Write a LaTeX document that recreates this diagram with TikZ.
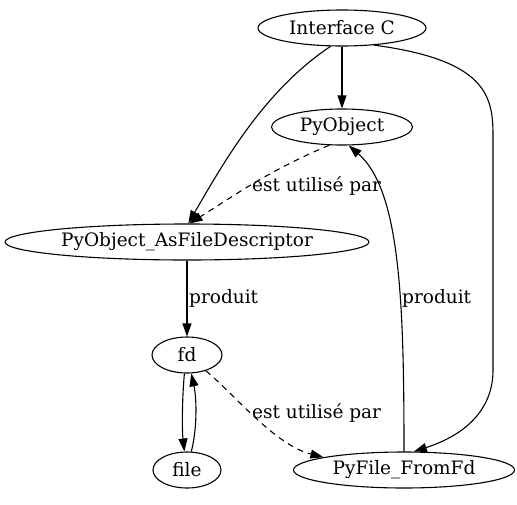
\documentclass[tikz,border=0pt]{standalone}
\usepackage{fontspec}
\setmainfont{DejaVu Serif}
\usetikzlibrary{arrows.meta,shapes.geometric}
\begin{document}
\begin{tikzpicture}[x=1pt,y=-1pt,
  nd/.style={draw,ellipse,inner sep=0pt,minimum height=36pt,line width=1.1pt,font=\fontsize{18.5}{22}\selectfont},
  lbl/.style={font=\fontsize{18.5}{22}\selectfont,inner sep=1pt},
  edge/.style={-{Triangle[length=13pt,width=9pt]},line width=1.1pt},
  dedge/.style={edge,dash pattern=on 6pt off 5pt}]
\useasboundingbox (0,0) rectangle (517,504);
\node[nd,minimum width=168pt] (ic) at (342,28) {Interface C};
\node[nd,minimum width=141pt] (po) at (342,127) {PyObject};
\node[nd,minimum width=364pt] (as) at (187,242) {PyObject\_AsFileDescriptor};
\node[nd,minimum width=70pt] (fd) at (187,355) {fd};
\node[nd,minimum width=68pt] (fi) at (187,470) {file};
\node[nd,minimum width=221pt] (pf) at (404,470) {PyFile\_FromFd};
\draw[edge] (ic) -- (po);
\draw[edge] (ic.-122) .. controls (265,90) and (225,160) .. (as.86);
\draw[dedge] (po.-125) .. controls (270,170) and (235,195) .. (as.82);
\node[lbl,anchor=west] (l1) at (251,186) {est utilisé par};
\draw[edge] (ic.-28) .. controls (485,60) and (493,95) .. (493,135) -- (493,370) .. controls (493,410) and (465,435) .. (pf.62);
\draw[edge] (pf.90) .. controls (404,300) and (400,190) .. (po.-70);
\node[lbl,anchor=west] (l2) at (401,298) {produit};
\draw[edge] (as) -- (fd);
\node[lbl,anchor=west] (l3) at (188,298) {produit};
\draw[edge] (fd.-98) .. controls (182,400) and (182,430) .. (fi.98);
\draw[edge] (fi.77) .. controls (197,430) and (197,400) .. (fd.-77);
\draw[dedge] (fd.-40) .. controls (235,395) and (275,445) .. (pf.171);
\node[lbl,anchor=west] (l4) at (251,413) {est utilisé par};
\end{tikzpicture}
\end{document}
